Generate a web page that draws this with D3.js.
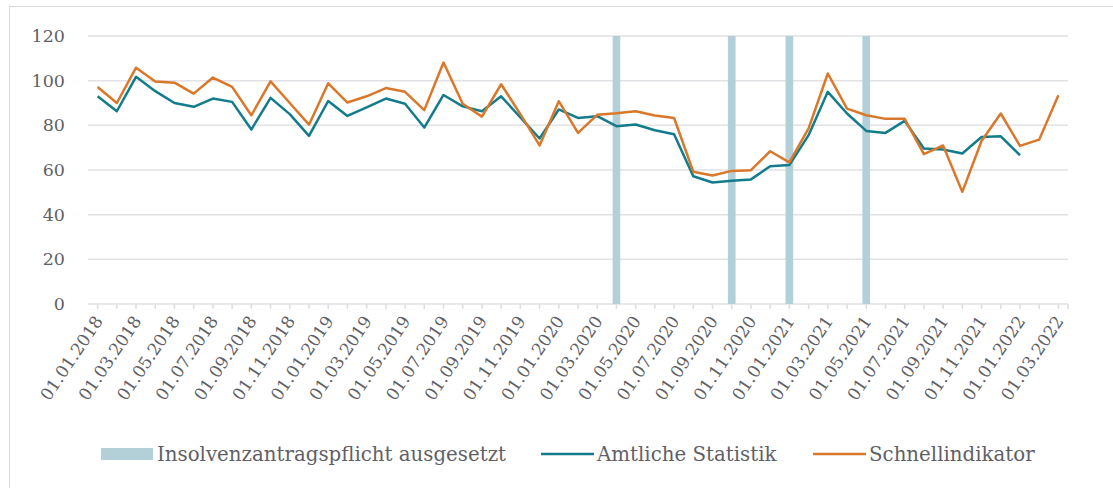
<!DOCTYPE html>
<html>
<head>
<meta charset="utf-8">
<script src="https://cdn.jsdelivr.net/npm/d3@7"></script>
<style>
    body { margin: 0; background: #fff; }
    svg { display: block; }
    text { font-family: "DejaVu Serif", serif; fill: #5f5f66; }
</style>
</head>
<body>
<svg width="1113" height="488"></svg>
<script>
// ---- Daten (monatlich, 01.01.2018 bis 01.03.2022)
const months = [];
for (let y = 2018; y <= 2022; y++) {
    for (let m = 1; m <= 12; m++) {
        if (y === 2022 && m > 3) break;
        months.push(`01.${String(m).padStart(2, '0')}.${y}`);
    }
}

const amtlicheStatistik = [
    93.0, 86.3, 101.7, 95.3, 90.0, 88.3, 92.0, 90.5, 78.1, 92.3, 85.0, 75.3,
    90.9, 84.2, 88.0, 92.0, 89.7, 79.0, 93.6, 88.5, 86.3, 93.0, 83.6, 74.1,
    87.1, 83.3, 84.1, 79.6, 80.4, 77.8, 76.0, 57.2, 54.4, 55.2, 55.8, 61.7,
    62.2, 75.6, 95.0, 85.3, 77.5, 76.6, 82.0, 69.6, 69.2, 67.4, 74.8, 75.1,
    66.6
];

const schnellindikator = [
    97.2, 90.0, 105.8, 99.6, 99.1, 94.2, 101.4, 97.2, 84.5, 99.7, 90.0, 80.3,
    98.8, 90.2, 93.0, 96.7, 95.0, 86.8, 108.1, 89.7, 83.9, 98.4, 85.0, 71.0,
    90.8, 76.6, 84.7, 85.4, 86.3, 84.4, 83.3, 59.2, 57.5, 59.6, 59.9, 68.4,
    63.4, 78.6, 103.2, 87.5, 84.5, 82.9, 82.9, 67.1, 71.0, 50.2, 73.0, 85.3,
    70.8, 73.6, 93.5
];

// Insolvenzantragspflicht ausgesetzt (Markierungen)
const aussetzungDates = ['01.04.2020', '01.10.2020', '01.01.2021', '01.05.2021'];
const aussetzungValue = 120;

const yTicks = [0, 20, 40, 60, 80, 100, 120];
const xLabels = months.filter((d, i) => i % 2 === 0);

const legendItems = [
    { label: 'Insolvenzantragspflicht ausgesetzt', type: 'bar', color: '#b3d0d8' },
    { label: 'Amtliche Statistik', type: 'line', color: '#127c8c' },
    { label: 'Schnellindikator', type: 'line', color: '#d9782a' }
];

// ---- Aufbau
const svg = d3.select('svg');
const margens = { left: 88, right: 45, top: 36, bottom: 184 };
const width = 1113;
const height = 488;

const x = d3.scaleBand()
    .domain(months)
    .range([margens.left, width - margens.right]);

const y = d3.scaleLinear()
    .domain([0, 120])
    .range([height - margens.bottom, margens.top]);

// Rahmen
svg.append('rect')
    .attr('x', 9.5)
    .attr('y', 6.5)
    .attr('width', 1200)
    .attr('height', 600)
    .attr('fill', 'none')
    .attr('stroke', '#d9d9d9');

// Gitterlinien
svg.append('g')
    .selectAll('line')
    .data(yTicks)
    .join('line')
    .attr('x1', margens.left)
    .attr('x2', width - margens.right)
    .attr('y1', d => y(d))
    .attr('y2', d => y(d))
    .attr('stroke', '#e1e1e6')
    .attr('stroke-width', 1.5);

// Y-Achse
svg.append('g')
    .selectAll('text')
    .data(yTicks)
    .join('text')
    .attr('x', 65)
    .attr('y', d => y(d))
    .attr('dy', '0.35em')
    .attr('text-anchor', 'end')
    .style('font-size', '17.5px')
    .text(d => d);

// Balken
svg.append('g')
    .selectAll('rect')
    .data(aussetzungDates)
    .join('rect')
    .attr('x', d => x(d) + x.bandwidth() * 0.3)
    .attr('width', x.bandwidth() * 0.4)
    .attr('y', y(aussetzungValue))
    .attr('height', y(0) - y(aussetzungValue))
    .attr('fill', '#b3d0d8');

// X-Achse: Ticks
const tickPos = months.map(d => x(d) + x.bandwidth() / 2).concat([width - margens.right]);
svg.append('g')
    .selectAll('line')
    .data(tickPos)
    .join('line')
    .attr('x1', d => d)
    .attr('x2', d => d)
    .attr('y1', y(0))
    .attr('y2', y(0) + 5)
    .attr('stroke', '#dcdce2')
    .attr('stroke-width', 1.5);

svg.append('g')
    .selectAll('text')
    .data(xLabels)
    .join('text')
    .attr('transform', d => `translate(${x(d) + x.bandwidth() / 2 + 6}, 321) rotate(-56)`)
    .attr('text-anchor', 'end')
    .style('font-size', '17px')
    .text(d => d);

// Linien
const line = d3.line()
    .x((d, i) => x(months[i]) + x.bandwidth() / 2)
    .y(d => y(d));

svg.append('path')
    .datum(amtlicheStatistik)
    .attr('d', line)
    .attr('fill', 'none')
    .attr('stroke', '#127c8c')
    .attr('stroke-width', 2.5)
    .attr('stroke-linejoin', 'round');

svg.append('path')
    .datum(schnellindikator)
    .attr('d', line)
    .attr('fill', 'none')
    .attr('stroke', '#d9782a')
    .attr('stroke-width', 2.5)
    .attr('stroke-linejoin', 'round');

// ---- Legende
const legendX = [101, 541, 813];
const legendY = 454;
const legend = svg.append('g')
    .selectAll('g')
    .data(legendItems)
    .join('g')
    .attr('transform', (d, i) => `translate(${legendX[i]}, ${legendY})`);

legend.filter(d => d.type === 'bar')
    .append('rect')
    .attr('x', 0)
    .attr('y', -6)
    .attr('width', 52)
    .attr('height', 12)
    .attr('fill', d => d.color);

legend.filter(d => d.type === 'line')
    .append('line')
    .attr('x1', 0)
    .attr('x2', 53)
    .attr('stroke', d => d.color)
    .attr('stroke-width', 2.5);

legend.append('text')
    .attr('x', 56)
    .attr('dy', '0.35em')
    .style('font-size', '19.8px')
    .text(d => d.label);
</script>
</body>
</html>
